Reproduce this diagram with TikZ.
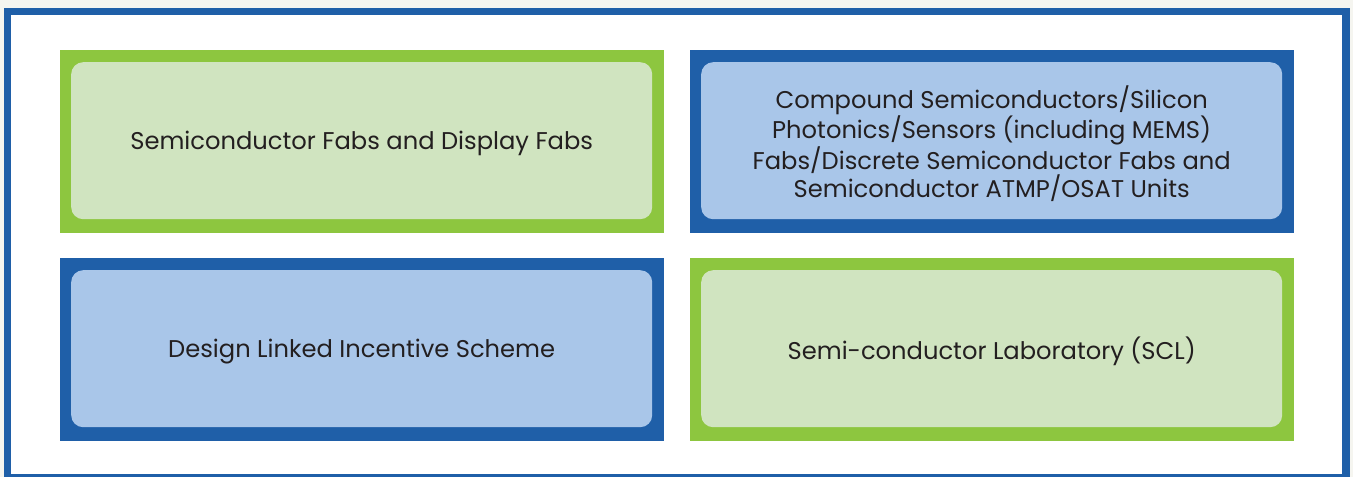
\documentclass[tikz,border=0pt]{standalone}
\usepackage{fontspec}
\setmainfont{Poppins}
\definecolor{bgc}{HTML}{F5F5F0}
\definecolor{frameblue}{HTML}{1F5FA8}
\definecolor{dgreen}{HTML}{8DC63F}
\definecolor{lgreen}{HTML}{D0E4C0}
\definecolor{lblue}{HTML}{A9C6E9}
\definecolor{txt}{HTML}{231F20}
\tikzset{
  outerbox/.style={draw=none, minimum width=604pt, minimum height=183pt, inner sep=0pt},
  innerbox/.style={rounded corners=12pt, minimum width=581pt, minimum height=157pt, inner sep=0pt},
  lbl/.style={text=txt, align=center, font=\fontsize{24.2}{28.5}\selectfont, inner sep=0pt},
}
\begin{document}
\begin{tikzpicture}[x=1pt,y=-1pt]
\useasboundingbox (0,0) rectangle (1353,477);
\fill[bgc] (0,0) rectangle (1353,477);
\fill[frameblue] (4,8) rectangle (1350,477);
\fill[white] (11,15) rectangle (1342,474);
% outer boxes
\node[outerbox, fill=dgreen, anchor=north west] (tlo) at (60,50) {};
\node[outerbox, fill=frameblue, anchor=north west] (tro) at (690,50) {};
\node[outerbox, fill=frameblue, anchor=north west] (blo) at (60,258) {};
\node[outerbox, fill=dgreen, anchor=north west] (bro) at (690,258) {};
% inner boxes
\node[innerbox, fill=lgreen, anchor=north west] (tl) at (71,62) {};
\node[innerbox, fill=lblue, anchor=north west] (tr) at (701,62) {};
\node[innerbox, fill=lblue, anchor=north west] (bl) at (71,270) {};
\node[innerbox, fill=lgreen, anchor=north west] (br) at (701,270) {};
% labels
\node[lbl] (tlt) at ([yshift=-3pt]tl.center) {Semiconductor Fabs and Display Fabs};
\node[lbl] (trt) at ([yshift=-3pt]tr.center) {Compound Semiconductors/Silicon\\Photonics/Sensors (including MEMS)\\Fabs/Discrete Semiconductor Fabs and\\Semiconductor ATMP/OSAT Units};
\node[lbl] (blt) at ([yshift=-3pt]bl.center) {Design Linked Incentive Scheme};
\node[lbl] (brt) at ([yshift=-3pt]br.center) {Semi-conductor Laboratory (SCL)};
\end{tikzpicture}
\end{document}
